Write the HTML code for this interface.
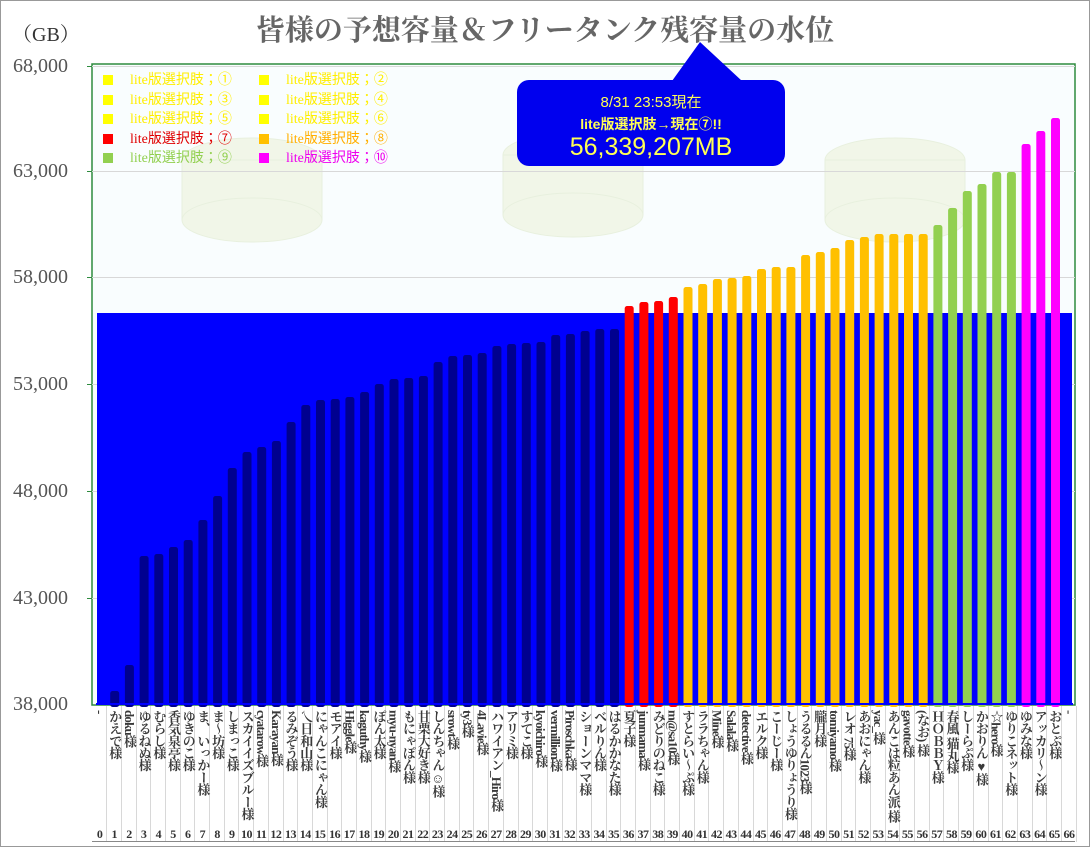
<!DOCTYPE html>
<html><head><meta charset="utf-8"><style>
body{margin:0;width:1090px;height:847px;background:#fff;position:relative;overflow:hidden;font-family:"Liberation Serif","Noto Serif CJK JP",serif}
.frame{position:absolute;left:0;top:0;width:1088px;height:845px;border:1px solid #999}
.title{position:absolute;left:0;width:1090px;top:8px;text-align:center;font-size:29px;font-weight:bold;color:#666;font-family:"Liberation Serif","Noto Serif CJK JP",serif}
.gb{position:absolute;left:12px;top:18px;font-size:20px;color:#333}
.yl{position:absolute;left:0;width:68px;text-align:right;font-size:20px;color:#555}
.labs{position:absolute;left:92.6px;top:706px;height:136px;display:flex}
.labs div{width:13.7px;border-right:1px solid #d8d8d8;position:relative}
.labs span{position:absolute;top:4px;left:0;width:14px;writing-mode:vertical-rl;font-size:13px;font-weight:bold;color:#3a3a3a;line-height:14px;white-space:nowrap;letter-spacing:-0.8px;font-family:"Liberation Serif","Noto Serif CJK SC",serif}
.labs b{position:absolute;top:121px;left:-3px;width:20px;text-align:center;font-size:12px;color:#333;letter-spacing:-0.5px}
.leg{position:absolute;font-size:14px;font-family:"Liberation Serif","Noto Sans CJK JP",serif}
.leg i{display:inline-block;width:10px;height:10px;margin-right:17px;vertical-align:-1px}
.callout{position:absolute;left:517px;top:80px;width:268px;height:86px;background:#0000ee;border-radius:12px;color:#ffff55;text-align:center;font-family:"Liberation Sans","Noto Sans CJK JP",sans-serif}
</style></head><body>
<div class="frame"></div>
<svg width="1090" height="847" style="position:absolute;left:0;top:0" id="s">
<rect x="92" y="64" width="983" height="641" fill="#f9fdfe" stroke="#2e8b3e" stroke-width="1.5"/>
<g fill="#f1f6e8" stroke="#e8f0de">
<ellipse cx="252" cy="160" rx="70" ry="22"/><rect x="182" y="160" width="140" height="60"/><ellipse cx="252" cy="220" rx="70" ry="22"/>
<ellipse cx="573" cy="155" rx="70" ry="22"/><rect x="503" y="155" width="140" height="60"/><ellipse cx="573" cy="215" rx="70" ry="22"/>
<ellipse cx="895" cy="160" rx="70" ry="22"/><rect x="825" y="160" width="140" height="60"/><ellipse cx="895" cy="220" rx="70" ry="22"/>
</g>
<g id="grid" stroke="#d8d8d8" stroke-width="1"></g>
<g id="bars"></g>
<polygon points="672,81 700,42 742,81" fill="#0000ee"/>
</svg>
<div class="title">皆様の予想容量＆フリータンク残容量の水位</div>
<div class="gb">（GB）</div>
<div class="yl" style="top:55px">68,000</div>
<div class="yl" style="top:160px">63,000</div>
<div class="yl" style="top:266px">58,000</div>
<div class="yl" style="top:373px">53,000</div>
<div class="yl" style="top:480px">48,000</div>
<div class="yl" style="top:587px">43,000</div>
<div class="yl" style="top:693px">38,000</div>
<div class="leg" style="left:103px;top:71px;color:#ffee00;line-height:19.5px"><i style="background:#ffff00"></i>lite版選択肢；①<br><i style="background:#ffff00"></i>lite版選択肢；③<br><i style="background:#ffff00"></i>lite版選択肢；⑤<br><span style="color:#e00000"><i style="background:#ff0000"></i>lite版選択肢；⑦</span><br><span style="color:#92d050"><i style="background:#92d050"></i>lite版選択肢；⑨</span></div>
<div class="leg" style="left:259px;top:71px;color:#ffee00;line-height:19.5px"><i style="background:#ffff00"></i>lite版選択肢；②<br><i style="background:#ffff00"></i>lite版選択肢；④<br><i style="background:#ffff00"></i>lite版選択肢；⑥<br><span style="color:#ffb000"><i style="background:#ffc000"></i>lite版選択肢；⑧</span><br><span style="color:#ee00ee"><i style="background:#ff00ff"></i>lite版選択肢；⑩</span></div>
<div class="callout"><div style="font-size:15px;margin-top:11px">8/31 23:53現在</div><div style="font-size:14px;margin-top:2px;font-weight:bold">lite版選択肢→現在⑦!!</div><div style="font-size:25px;margin-top:-1px">56,339,207MB</div></div>
<div class="labs">
<div><span>-</span><b>0</b></div><div><span>かえで様</span><b>1</b></div><div><span>doku様</span><b>2</b></div><div><span>ゆるねぬ様</span><b>3</b></div><div><span>むらし様</span><b>4</b></div><div><span>香気泉亭様</span><b>5</b></div><div><span>ゆきのこ様</span><b>6</b></div><div><span>ま、いっかー様</span><b>7</b></div><div><span>ま～坊様</span><b>8</b></div><div><span>しまっこ様</span><b>9</b></div><div><span>スカイイズブルー様</span><b>10</b></div><div><span>cyatarow様</span><b>11</b></div><div><span>Karayan様</span><b>12</b></div><div><span>るみぞう様</span><b>13</b></div><div><span>乀日和山様</span><b>14</b></div><div><span>にゃんこにゃん様</span><b>15</b></div><div><span>モアイ様</span><b>16</b></div><div><span>Higgle様</span><b>17</b></div><div><span>kaguthy様</span><b>18</b></div><div><span>ぽん太様</span><b>19</b></div><div><span>myu-nyan様</span><b>20</b></div><div><span>もにゃぽん様</span><b>21</b></div><div><span>甘栗大好き様</span><b>22</b></div><div><span>しんちゃん☺様</span><b>23</b></div><div><span>srowt様</span><b>24</b></div><div><span>ty3様</span><b>25</b></div><div><span>4Lavie様</span><b>26</b></div><div><span>ハワイアン_Hiro様</span><b>27</b></div><div><span>アリミ様</span><b>28</b></div><div><span>すてこ様</span><b>29</b></div><div><span>kyoichiro様</span><b>30</b></div><div><span>vermillion様</span><b>31</b></div><div><span>Piroschka様</span><b>32</b></div><div><span>ショーンママ様</span><b>33</b></div><div><span>ベルりん様</span><b>34</b></div><div><span>はるかかなた様</span><b>35</b></div><div><span>夏子様</span><b>36</b></div><div><span>junmama様</span><b>37</b></div><div><span>みどりのねこ様</span><b>38</b></div><div><span>m@sa10様</span><b>39</b></div><div><span>すとらい～ぷ様</span><b>40</b></div><div><span>ララちゃん様</span><b>41</b></div><div><span>Mine様</span><b>42</b></div><div><span>Salala様</span><b>43</b></div><div><span>detective様</span><b>44</b></div><div><span>エルク様</span><b>45</b></div><div><span>こーじー様</span><b>46</b></div><div><span>しょうゆりょうり様</span><b>47</b></div><div><span>うるるん1023様</span><b>48</b></div><div><span>朧月様</span><b>49</b></div><div><span>tomiyamo様</span><b>50</b></div><div><span>レオ 75様</span><b>51</b></div><div><span>あおにゃん様</span><b>52</b></div><div><span>yac_様</span><b>53</b></div><div><span>あんこは粒あん派 様</span><b>54</b></div><div><span>gavotte様</span><b>55</b></div><div><span>(なお) 様</span><b>56</b></div><div><span>ＨＯＢＢＹ様</span><b>57</b></div><div><span>春風 猫丸様</span><b>58</b></div><div><span>しーらぷ様</span><b>59</b></div><div><span>かおりん♥様</span><b>60</b></div><div><span>☆hero様</span><b>61</b></div><div><span>ゆりこネット様</span><b>62</b></div><div><span>ゆみな様</span><b>63</b></div><div><span>アッカリ～ン様</span><b>64</b></div><div><span>おとぷ様</span><b>65</b></div><div><span>-</span><b>66</b></div>
</div>
<div style="position:absolute;left:92px;top:841px;width:983px;height:1px;background:#888"></div>
<script>
var NS="http://www.w3.org/2000/svg";
function el(t,a,p){var e=document.createElementNS(NS,t);for(var k in a)e.setAttribute(k,a[k]);document.getElementById(p).appendChild(e);return e;}
[66,171,277,384,491,598].forEach(function(y){el("line",{x1:92,x2:1075,y1:y+0.5,y2:y+0.5},"grid");el("line",{x1:87,x2:92,y1:y+0.5,y2:y+0.5,stroke:"#2e8b3e"},"grid");});
el("rect",{x:97,y:313,width:975,height:391,fill:"#0000ff"},"bars");
var tops=[704,691,665,556,554,547,540,520,496,468,452,447,441,422,405,400,399,397,392,384,379,378,376,362,356,355,353,346,344,343,342,335,334,331,329,329,306,302,301,297,287,284,279,278,276,269,267,267,255,252,248,240,237,234,234,234,234,225,208,191,184,172,172,144,131,118];
for(var i=1;i<tops.length;i++){var c=i<36?"#00008f":i<40?"#ff0000":i<57?"#ffc000":i<63?"#92d050":"#ff00ff";
var x=100+i*14.7-4.5;el("rect",{x:x,y:tops[i],width:9,height:704-tops[i]+3,rx:2.5,fill:c},"bars");}
el("rect",{x:96,y:703,width:977,height:2,fill:"#0000ff"},"bars");
</script>
</body></html>
